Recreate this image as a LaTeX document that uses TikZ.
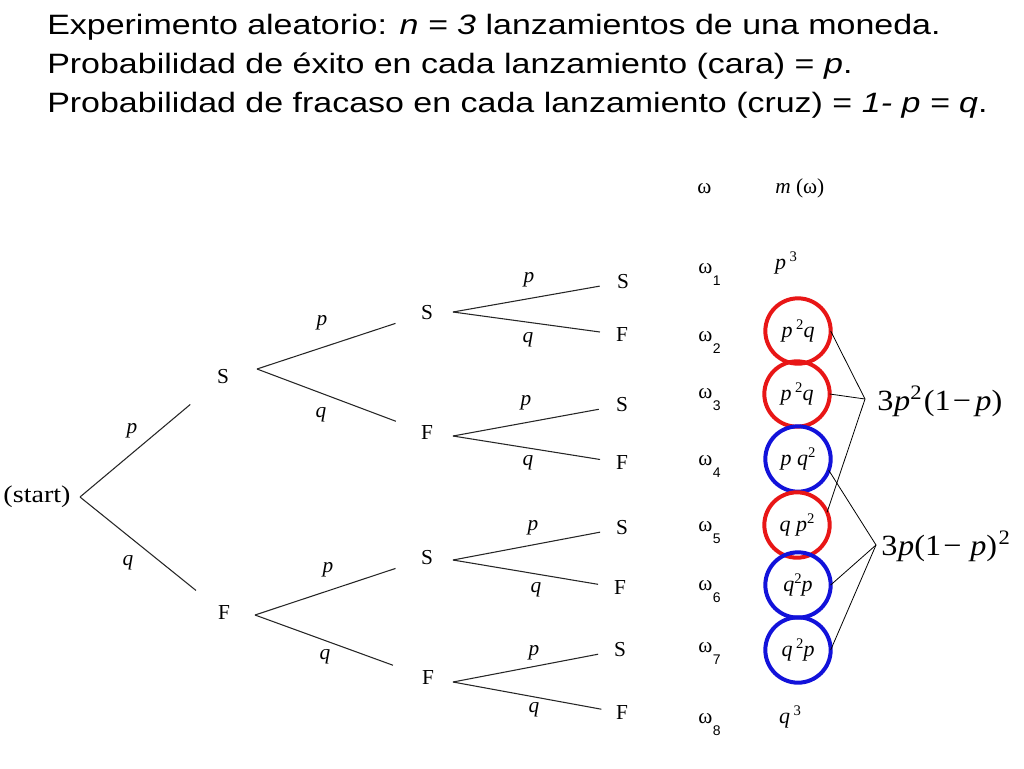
\documentclass[tikz,border=0pt]{standalone}
\usepackage{fontspec}
\usepackage{graphicx}
\setmainfont{Liberation Serif}
\setsansfont{Liberation Sans}
\definecolor{cred}{RGB}{232,22,22}
\definecolor{cblue}{RGB}{18,18,218}
\newcommand\osub[1]{\kern0.5pt\raisebox{-9pt}{\sffamily\fontsize{10.5}{12}\selectfont #1}}
\newcommand\msup[1]{\raisebox{6pt}{\upshape\fontsize{11}{12}\selectfont #1}}
\newcommand\wide[1]{\scalebox{1.213}[1]{#1}}
\newcommand\fwide[1]{\scalebox{1.1}[1]{#1}}
\begin{document}
\begin{tikzpicture}[x=0.75pt,y=-0.75pt,
  title/.style={anchor=base west, inner sep=0pt, font=\sffamily\fontsize{21}{24}\selectfont},
  state/.style={inner sep=0pt, font=\fontsize{16}{18}\selectfont},
  prob/.style={inner sep=0pt, font=\itshape\fontsize{16}{18}\selectfont},
  branch/.style={line width=0.8pt, black!85},
  omg/.style={anchor=base west, inner sep=0pt, font=\fontsize{16}{18}\selectfont},
  mval/.style={inner sep=0pt, font=\itshape\fontsize{16.5}{18}\selectfont},
  ring/.style={circle, draw=#1, line width=3pt, minimum size=49pt, inner sep=0pt, outer sep=0pt,
    font=\itshape\fontsize{16.5}{18}\selectfont},
  link/.style={line width=0.6pt, black},
  formula/.style={anchor=base west, inner sep=0pt, font=\fontsize{22}{24}\selectfont},
  sh1/.style={shorten >=#1}
]
\useasboundingbox (0,0) rectangle (1024,768);

% title
\node[title] (t1) at (47,34) {\wide{Experimento aleatorio: \textit{n = 3} lanzamientos de una moneda.}};
\node[title] (t2) at (47,73) {\wide{Probabilidad de éxito en cada lanzamiento (cara) = \textit{p}.}};
\node[title] (t3) at (47,112) {\wide{Probabilidad de fracaso en cada lanzamiento (cruz) = \textit{1- p = q}.}};

% tree nodes
\node[state, font=\fontsize{18}{20}\selectfont] (start) at (37,497) {\scalebox{1.17}[1]{(start)}};
\node[state] (S1) at (223,377) {S};
\node[state] (F1) at (224,613) {F};
\node[state] (S2a) at (427,313) {S};
\node[state] (F2a) at (427,433) {F};
\node[state] (S2b) at (427,558) {S};
\node[state] (F2b) at (428,678) {F};
\node[state] (L1) at (623,282) {S};
\node[state] (L2) at (622,335) {F};
\node[state] (L3) at (622,405) {S};
\node[state] (L4) at (622,463) {F};
\node[state] (L5) at (622,528) {S};
\node[state] (L6) at (620,588) {F};
\node[state] (L7) at (620,650) {S};
\node[state] (L8) at (622,713) {F};

% fork apexes
\coordinate (a0) at (80,497);
\coordinate (a1) at (257,369);
\coordinate (a2) at (255,615);
\coordinate (b1) at (453,312);
\coordinate (b2) at (453,436);
\coordinate (b3) at (453,560);
\coordinate (b4) at (453,682);

% branches
\draw[branch, sh1=26pt] (a0) -- (S1);
\draw[branch, sh1=21pt] (a0) -- (F1);
\draw[branch, sh1=20pt] (a1) -- (S2a);
\draw[branch, sh1=20pt] (a1) -- (F2a);
\draw[branch, sh1=20pt] (a2) -- (S2b);
\draw[branch, sh1=23pt] (a2) -- (F2b);
\draw[branch, sh1=13pt] (b1) -- (L1);
\draw[branch, sh1=12pt] (b1) -- (L2);
\draw[branch, sh1=13pt] (b2) -- (L3);
\draw[branch, sh1=12pt] (b2) -- (L4);
\draw[branch, sh1=12pt] (b3) -- (L5);
\draw[branch, sh1=12pt] (b3) -- (L6);
\draw[branch, sh1=12pt] (b4) -- (L7);
\draw[branch, sh1=11pt] (b4) -- (L8);

% branch labels
\node[prob] (p1) at (132,431) {p};
\node[prob] (q1) at (128,563) {q};
\node[prob] (p2) at (322,323) {p};
\node[prob] (q2) at (321,415) {q};
\node[prob] (p3) at (328,570) {p};
\node[prob] (q3) at (325,657) {q};
\node[prob] (p4) at (529,280) {p};
\node[prob] (q4) at (528,340) {q};
\node[prob] (p5) at (526,403) {p};
\node[prob] (q5) at (528,463) {q};
\node[prob] (p6) at (533,528) {p};
\node[prob] (q6) at (536,590) {q};
\node[prob] (p7) at (534,653) {p};
\node[prob] (q7) at (534,710) {q};

% omega column
\node[omg] (hw) at (697,193) {ω};
\node[omg] (hm) at (775,193) {\textit{m} (ω)};
\node[omg] (w1) at (698,273) {ω\osub{1}};
\node[omg] (w2) at (698,341) {ω\osub{2}};
\node[omg] (w3) at (698,398) {ω\osub{3}};
\node[omg] (w4) at (698,465) {ω\osub{4}};
\node[omg] (w5) at (698,531) {ω\osub{5}};
\node[omg] (w6) at (698,590) {ω\osub{6}};
\node[omg] (w7) at (698,652) {ω\osub{7}};
\node[omg] (w8) at (698,723) {ω\osub{8}};

% probabilities
\node[mval] (m1) at (786,263) {p\,\msup{3}};
\node[ring=cred] (c2) at (798,331) {p\,\msup{2}q};
\node[ring=cred] (c3) at (797,394) {p\,\msup{2}q};
\node[ring=cblue] (c4) at (798,459) {p q\msup{2}};
\node[ring=cred] (c5) at (797,525) {q p\msup{2}};
\node[ring=cblue] (c6) at (798,585) {q\msup{2}p};
\node[ring=cblue] (c7) at (798,650) {q\,\msup{2}p};
\node[mval] (m8) at (790,717) {q\,\msup{3}};

% grouped results
\coordinate (v1) at (865,399);
\coordinate (v2) at (876,545);
\node[formula] (f1) at (877,410) {\fwide{3\kern0.5pt\textit{p}\textsuperscript{2}\kern1pt(1\kern1.5pt−\kern3pt\textit{p})}};
\node[formula] (f2) at (881,555) {\fwide{3\kern0.5pt\textit{p}(1\kern1.5pt−\kern6pt\textit{p})\kern1pt\textsuperscript{2}}};
\draw[link] (c2.east) -- (v1);
\draw[link] (c3.east) -- (v1);
\draw[link] (c5.23) -- (v1);
\draw[link] (c4.-20) -- (v2);
\draw[link] (c6.east) -- (v2);
\draw[link] (c7.east) -- (v2);
\end{tikzpicture}
\end{document}
